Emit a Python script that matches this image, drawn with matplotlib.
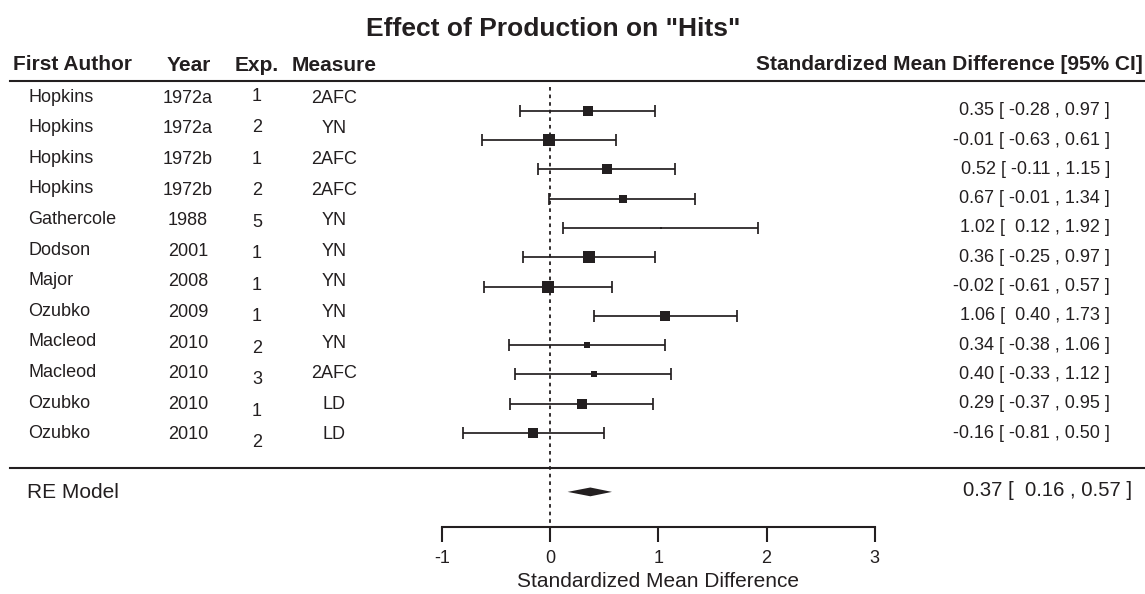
import matplotlib
matplotlib.use("Agg")
import matplotlib.pyplot as plt
import matplotlib.transforms as mtransforms
import numpy as np

# study table
authors = ["Hopkins", "Hopkins", "Hopkins", "Hopkins", "Gathercole", "Dodson",
           "Major", "Ozubko", "Macleod", "Macleod", "Ozubko", "Ozubko"]
years = ["1972a", "1972a", "1972b", "1972b", "1988", "2001",
         "2008", "2009", "2010", "2010", "2010", "2010"]
exps = ["1", "2", "1", "2", "5", "1", "1", "1", "2", "3", "1", "2"]
measures = ["2AFC", "YN", "2AFC", "2AFC", "YN", "YN",
            "YN", "YN", "YN", "2AFC", "LD", "LD"]
smd = [0.35, -0.01, 0.52, 0.67, 1.02, 0.36, -0.02, 1.06, 0.34, 0.40, 0.29, -0.16]
ci_lo = [-0.28, -0.63, -0.11, -0.01, 0.12, -0.25, -0.61, 0.40, -0.38, -0.33, -0.37, -0.81]
ci_hi = [0.97, 0.61, 1.15, 1.34, 1.92, 0.97, 0.57, 1.73, 1.06, 1.12, 0.95, 0.50]
# relative weights
weights = [9.5, 10, 9.5, 7.5, 2, 10, 10.5, 8, 6, 6, 8, 8.5]

re_est, re_lo, re_hi = 0.37, 0.16, 0.57
xticks = [-1, 0, 1, 2, 3]

INK = "#231f20"
plt.rcParams["font.family"] = ["Liberation Sans", "DejaVu Sans"]

W, H = 1145, 594
fig = plt.figure(figsize=(W / 100, H / 100), dpi=100)
ax = fig.add_axes([0, 0, 1, 1])
ax.axis("off")

# ~108 px per SMD unit, 29.3 px per row
ax.set_xlim(-550.3 / 108.15, (W - 550.3) / 108.15)
ax.set_ylim(12 - (H - 110.7) / 29.3, 12 + 110.7 / 29.3)

n = len(smd)
rows = np.arange(n, 0, -1).astype(float)
est = np.array(smd)
lo = np.array(ci_lo)
hi = np.array(ci_hi)

tr = mtransforms.blended_transform_factory(ax.transAxes, ax.transData)


def fx(px):
    return px / W


# title and headers
ax.text(fx(553), 14.56, 'Effect of Production on "Hits"', transform=tr,
        ha="center", va="baseline", fontsize=19, fontweight="bold", color=INK)
hdr = dict(transform=tr, va="baseline", fontsize=15, fontweight="bold", color=INK)
ax.text(fx(13), 13.40, "First Author", ha="left", **hdr)
ax.text(fx(189), 13.34, "Year", ha="center", **hdr)
ax.text(fx(257), 13.34, "Exp.", ha="center", **hdr)
ax.text(fx(334), 13.34, "Measure", ha="center", **hdr)
ax.text(fx(1143), 13.40, "Standardized Mean Difference [95% CI]", ha="right", **hdr)

ax.plot([fx(10), 1], [13, 13], transform=tr, color=INK, lw=1.5)
ax.plot([fx(10), 1], [-0.21, -0.21], transform=tr, color=INK, lw=1.5)

# reference line at zero
ax.plot([0, 0], [12.8, -2.2], color=INK, lw=1.3, ls=(0, (2, 2.2)), zorder=1)

# left table, its rows are spaced a little wider than the plot rows
txt_y = 1 + (rows - 1) * 1.0444 - 0.22
exp_y = 0.737 + (rows - 1) * 1.075 - 0.22
row_kw = dict(transform=tr, va="baseline", fontsize=13, color=INK)
for i in range(n):
    ax.text(fx(28), txt_y[i] + 0.04, authors[i], ha="left", **row_kw)
    ax.text(fx(188), txt_y[i], years[i], ha="center", **row_kw)
    ax.text(fx(257), exp_y[i], exps[i], ha="center", **row_kw)
    ax.text(fx(334), txt_y[i], measures[i], ha="center", **row_kw)
    label = f"{est[i]:.2f} [{lo[i]:6.2f} ,{hi[i]:5.2f} ]"
    ax.text(fx(1110), rows[i], label, transform=tr, ha="right", va="center",
            fontsize=13, color=INK)

# study estimates
ax.errorbar(est, rows, xerr=[est - lo, hi - est], fmt="none", ecolor=INK,
            elinewidth=1.25, capsize=4.5, capthick=1.25, zorder=2)
for i in range(n):
    ax.plot(est[i], rows[i], marker="s", ms=weights[i] * 0.82, color=INK,
            mec=INK, mew=0, zorder=3)

# random-effects summary
re_y = -1.01
ax.fill([re_lo, re_est, re_hi, re_est], [re_y, re_y + 0.15, re_y, re_y - 0.15],
        color=INK, lw=0, zorder=3)
ax.text(fx(27), -0.96 - 0.255, "RE Model", transform=tr, ha="left",
        va="baseline", fontsize=15, color=INK)
ax.text(fx(1132), -0.96, f"{re_est:.2f} [{re_lo:6.2f} ,{re_hi:5.2f} ]",
        transform=tr, ha="right", va="center", fontsize=14.6, color=INK)

# x axis
axis_y = -2.2
ax.plot([xticks[0], xticks[-1]], [axis_y, axis_y], color=INK, lw=1.5)
ax.vlines(xticks, axis_y - 0.51, axis_y, color=INK, lw=1.5)
for t in xticks:
    ax.text(t, -3.29, f"{t}", ha="center", va="center", fontsize=13, color=INK)
ax.text(np.mean([xticks[0], xticks[-1]]), -4.08, "Standardized Mean Difference",
        ha="center", va="center", fontsize=15, color=INK)

fig.savefig("out.png", dpi=100, facecolor="white")
